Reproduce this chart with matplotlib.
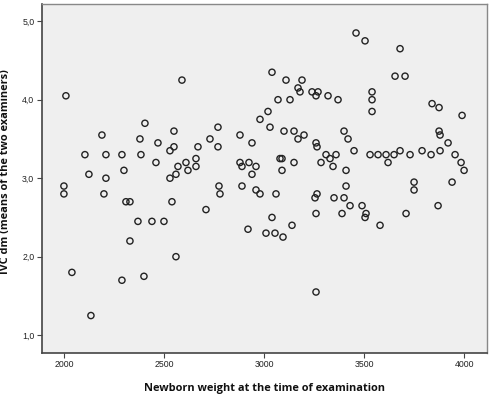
import matplotlib
matplotlib.use("Agg")
import matplotlib.pyplot as plt
from matplotlib.ticker import FuncFormatter

weight = [2010, 2590, 2405, 2190, 2380, 2470, 2550, 2550, 2770, 2730, 2770, 2670, 2880,
          2105, 2210, 2290, 2385, 2530, 2660, 2660, 2610, 2570, 2620, 2460, 2300, 2125,
          2210, 2530, 2560, 2880, 2890, 2925, 2940, 2940, 2000, 2000, 2200, 2775, 2780,
          2890, 2310, 2330, 2540, 2710, 2370, 2440, 2500, 2330, 2560, 2920, 2040, 2290,
          2400, 2135, 3010, 3055, 3095, 3140, 3040, 2960, 2980, 3060, 3260, 3260, 3255,
          3265, 3350, 3400, 3390, 3430, 3490, 3510, 3505, 3580, 3710, 3750, 3870, 3460,
          3505, 3680, 3040, 3110, 3190, 3655, 3705, 3170, 3180, 3240, 3270, 3260, 3320,
          3370, 3070, 3130, 3540, 3540, 3540, 3020, 2980, 3840, 3875, 3990, 3030, 3100,
          3150, 3170, 3200, 3400, 3420, 3450, 3260, 3265, 3310, 3330, 3360, 3345, 3285,
          3410, 3410, 3150, 3080, 3090, 3090, 2960, 3530, 3570, 3610, 3650, 3680, 3730,
          3790, 3835, 3880, 3955, 3620, 3875, 3880, 3920, 3985, 4000, 3750, 3940]
ivc = [4.05, 4.25, 3.70, 3.55, 3.50, 3.45, 3.60, 3.40, 3.65, 3.50, 3.40, 3.40, 3.55,
       3.30, 3.30, 3.30, 3.30, 3.35, 3.25, 3.15, 3.20, 3.15, 3.10, 3.20, 3.10, 3.05,
       3.00, 3.00, 3.05, 3.20, 3.15, 3.20, 3.45, 3.05, 2.90, 2.80, 2.80, 2.90, 2.80,
       2.90, 2.70, 2.70, 2.70, 2.60, 2.45, 2.45, 2.45, 2.20, 2.00, 2.35, 1.80, 1.70,
       1.75, 1.25, 2.30, 2.30, 2.25, 2.40, 2.50, 2.85, 2.80, 2.80, 1.55, 2.55, 2.75,
       2.80, 2.75, 2.75, 2.55, 2.65, 2.65, 2.55, 2.50, 2.40, 2.55, 2.85, 2.65, 4.85,
       4.75, 4.65, 4.35, 4.25, 4.25, 4.30, 4.30, 4.15, 4.10, 4.10, 4.10, 4.05, 4.05,
       4.00, 4.00, 4.00, 4.10, 4.00, 3.85, 3.85, 3.75, 3.95, 3.90, 3.80, 3.65, 3.60,
       3.60, 3.50, 3.55, 3.60, 3.50, 3.35, 3.45, 3.40, 3.30, 3.25, 3.30, 3.15, 3.20,
       3.10, 2.90, 3.20, 3.25, 3.25, 3.10, 3.15, 3.30, 3.30, 3.30, 3.30, 3.35, 3.30,
       3.35, 3.30, 3.35, 3.30, 3.20, 3.60, 3.55, 3.45, 3.20, 3.10, 2.95, 2.95]

x_ticks = [2000, 2500, 3000, 3500, 4000]
y_ticks = [1.0, 2.0, 3.0, 4.0, 5.0]
x_label = "Newborn weight at the time of examination"
y_label = "IVC dm (means of the two examiners)"

fig = plt.figure(figsize=(4.93, 3.96), dpi=100)
ax = fig.add_axes([0.085, 0.109, 0.903, 0.881])
ax.set_facecolor("#efefef")

ax.scatter(weight, ivc, s=20, facecolors="none", edgecolors="#222222", linewidths=1.0)

ax.set_xlim(1890, 4115)
ax.set_ylim(0.775, 5.22)
ax.set_xticks(x_ticks)
ax.set_yticks(y_ticks)
ax.yaxis.set_major_formatter(FuncFormatter(lambda v, p: f"{v:.1f}".replace(".", ",")))
ax.tick_params(axis="both", direction="out", length=3.5, width=0.8, color="#444444",
               labelsize=6.3, labelcolor="#222222", pad=2)
for lab in ax.get_xticklabels() + ax.get_yticklabels():
    lab.set_family("Liberation Sans")

for side in ["left", "bottom"]:
    ax.spines[side].set_color("#444444")
    ax.spines[side].set_linewidth(1.2)
for side in ["top", "right"]:
    ax.spines[side].set_color("#888888")
    ax.spines[side].set_linewidth(1.0)

ax.set_xlabel(x_label, fontsize=7.9, fontweight="bold", family="Open Sans", color="#111111")
ax.set_ylabel(y_label, fontsize=7.9, fontweight="bold", family="Open Sans", color="#111111")
ax.xaxis.set_label_coords(0.5, -0.086)
ax.yaxis.set_label_coords(-0.070, 0.52)

fig.savefig("out.png", dpi=100, facecolor="white")
